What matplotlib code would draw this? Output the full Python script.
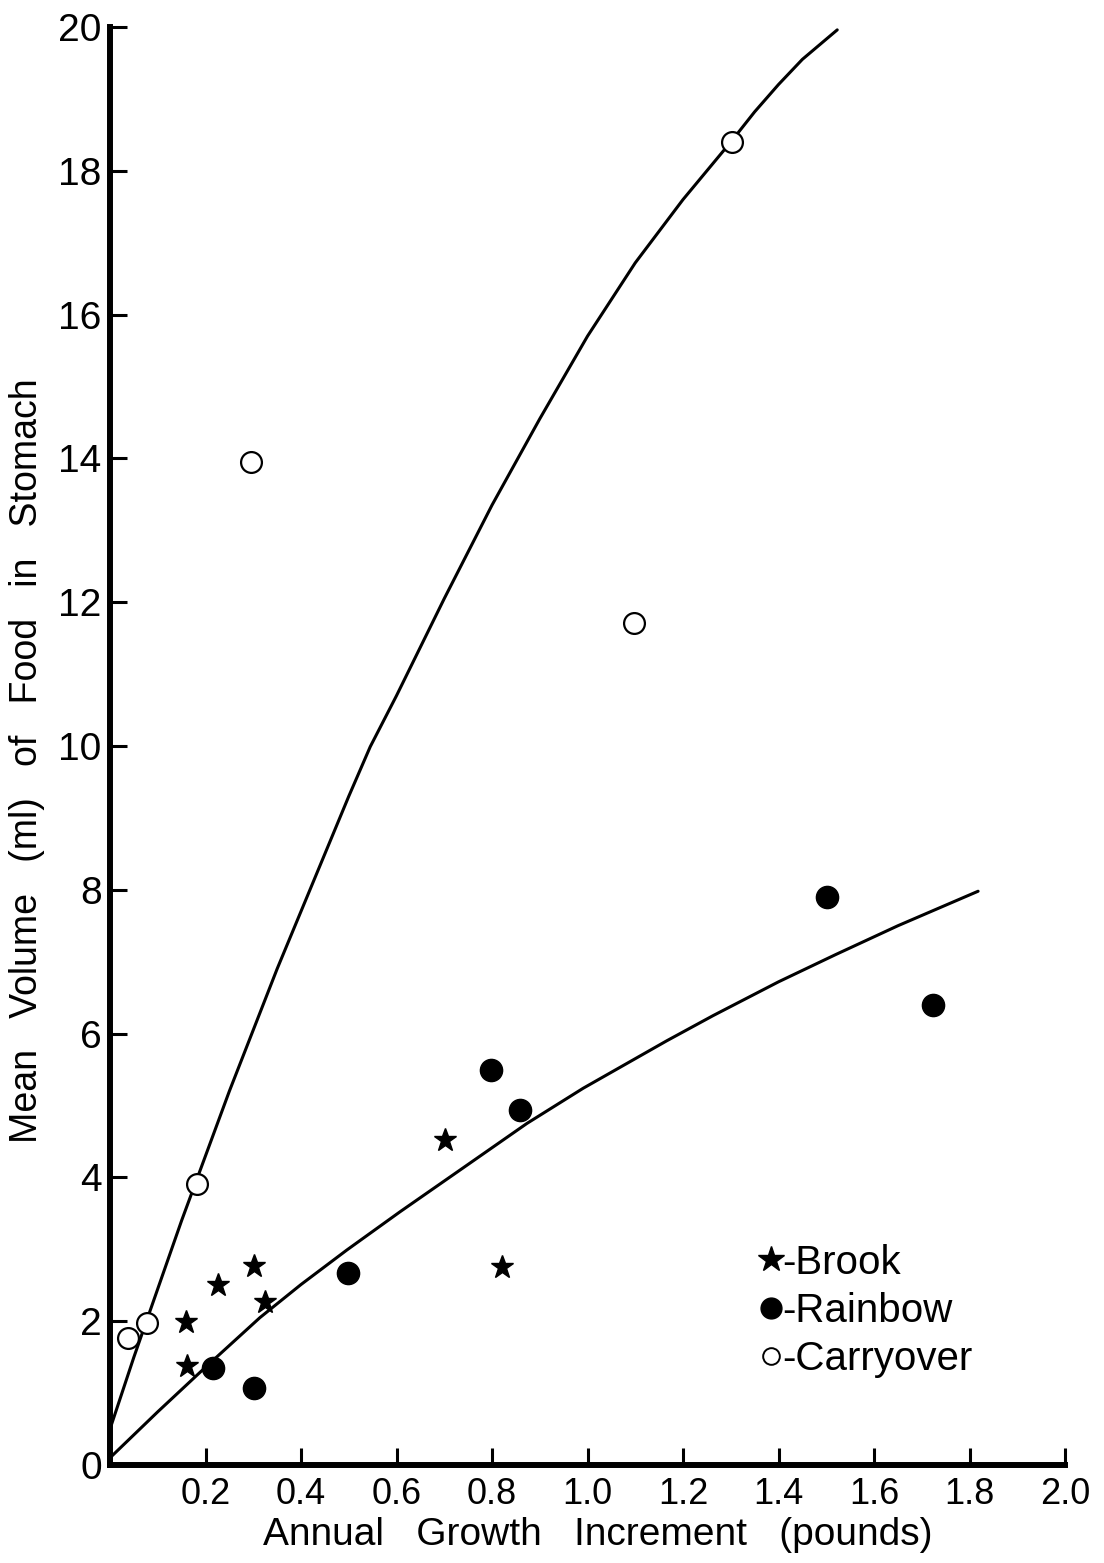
import matplotlib
matplotlib.use("Agg")
import matplotlib.pyplot as plt
from matplotlib import font_manager
from matplotlib.lines import Line2D

# ---- data ----
brook_x = [0.161, 0.159, 0.226, 0.302, 0.325, 0.702, 0.821]
brook_y = [1.38, 1.99, 2.50, 2.77, 2.27, 4.52, 2.75]

rainbow_x = [0.216, 0.302, 0.498, 0.798, 0.859, 1.502, 1.724]
rainbow_y = [1.35, 1.07, 2.67, 5.49, 4.94, 7.90, 6.40]

carry_x = [0.038, 0.077, 0.182, 0.295, 1.097, 1.303]
carry_y = [1.77, 1.97, 3.91, 13.95, 11.71, 18.40]

# fitted curves as drawn
upper_x = [0.0, 0.05, 0.10, 0.15, 0.20, 0.25, 0.30, 0.35, 0.40, 0.45, 0.50, 0.545,
           0.60, 0.70, 0.80, 0.90, 1.00, 1.10, 1.20, 1.30, 1.35, 1.40, 1.45, 1.523]
upper_y = [0.50, 1.50, 2.45, 3.40, 4.30, 5.20, 6.05, 6.90, 7.70, 8.50, 9.30, 9.99,
           10.70, 12.05, 13.35, 14.55, 15.70, 16.72, 17.60, 18.40, 18.82, 19.20,
           19.55, 19.96]

lower_x = [0.0, 0.10, 0.20, 0.314, 0.40, 0.496, 0.607, 0.739, 0.873, 0.991,
           1.166, 1.263, 1.40, 1.52, 1.65, 1.818]
lower_y = [0.10, 0.74, 1.36, 2.05, 2.51, 2.99, 3.52, 4.13, 4.75, 5.24,
           5.90, 6.25, 6.72, 7.10, 7.50, 7.98]

x_ticks = [0.2, 0.4, 0.6, 0.8, 1.0, 1.2, 1.4, 1.6, 1.8, 2.0]
x_ticklabels = ["0.2", "0.4", "0.6", "0.8", "1.0", "1.2", "1.4", "1.6", "1.8", "2.0"]
y_ticks = [0, 2, 4, 6, 8, 10, 12, 14, 16, 18, 20]
y_ticklabels = ["0", "2", "4", "6", "8", "10", "12", "14", "16", "18", "20"]

legend_labels = ["-Brook", "-Rainbow", "-Carryover"]

# ---- fonts ----
names = {f.name for f in font_manager.fontManager.ttflist}
base_font = "Liberation Sans" if "Liberation Sans" in names else "DejaVu Sans"
narrow_font = "Liberation Sans Narrow" if "Liberation Sans Narrow" in names else base_font
plt.rcParams["font.family"] = [base_font]

W, H, DPI = 1104, 1563, 100
fig = plt.figure(figsize=(W / DPI, H / DPI), dpi=DPI)
x0, x1 = 110, 1065
y0, y1 = 1465, 27
ax = fig.add_axes([x0 / W, 1 - y0 / H, (x1 - x0) / W, (y0 - y1) / H])
ax.set_xlim(0, 2.0)
ax.set_ylim(0, 20)

lw = 2.2
ax.plot(upper_x, upper_y, color="black", lw=lw, solid_capstyle="round",
        solid_joinstyle="round", zorder=2)
ax.plot(lower_x, lower_y, color="black", lw=lw, solid_capstyle="round",
        solid_joinstyle="round", zorder=2)

ax.plot(brook_x, brook_y, linestyle="none", marker="*", ms=17, color="black", zorder=3)
ax.plot(rainbow_x, rainbow_y, linestyle="none", marker="o", ms=16, color="black", zorder=3)
ax.plot(carry_x, carry_y, linestyle="none", marker="o", ms=15, mfc="white",
        mec="black", mew=1.6, zorder=3)

for s in ["top", "right"]:
    ax.spines[s].set_visible(False)
for s in ["left", "bottom"]:
    ax.spines[s].set_linewidth(4.3)
    ax.spines[s].set_capstyle("projecting")

ax.set_xticks(x_ticks)
ax.set_xticklabels(x_ticklabels, fontsize=26, family=narrow_font)
ax.set_yticks(y_ticks)
ax.set_yticklabels(y_ticklabels, fontsize=28)
ax.tick_params(axis="both", direction="in", length=12, width=2.2, color="black")
ax.tick_params(axis="x", pad=9)
ax.tick_params(axis="y", pad=6)

ax.set_xlabel("Annual   Growth   Increment   (pounds)", fontsize=28)
ax.set_ylabel("Mean   Volume   (ml)   of   Food   in   Stomach", fontsize=27)
ax.xaxis.set_label_coords(0.511, -0.036)
ax.yaxis.set_label_coords(-0.068, 0.49)

handles = [
    Line2D([], [], linestyle="none", marker="*", ms=19, color="black"),
    Line2D([], [], linestyle="none", marker="o", ms=15, color="black"),
    Line2D([], [], linestyle="none", marker="o", ms=12, mfc="white", mec="black", mew=1.4),
]
ax.legend(handles, legend_labels, loc="upper left", bbox_to_anchor=(0.679, 0.154),
          frameon=False, fontsize=29, handlelength=0.6, handletextpad=0.0,
          labelspacing=0.25, borderpad=0, borderaxespad=0)

fig.savefig("out.png", dpi=DPI, facecolor="white")
